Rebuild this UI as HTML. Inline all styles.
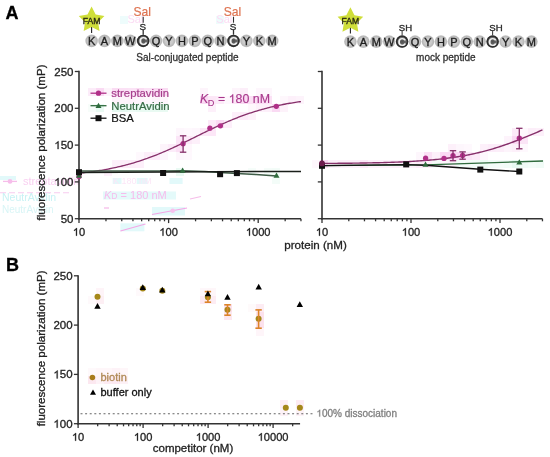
<!DOCTYPE html>
<html><head><meta charset="utf-8"><style>
html,body{margin:0;padding:0;background:#fff;}
svg{display:block;font-family:"Liberation Sans", sans-serif;will-change:transform;filter:blur(0.3px);}
.one{fill-opacity:0;stroke-opacity:0;}
</style></head><body>
<svg width="550" height="457" viewBox="0 0 550 457">
<defs>
<radialGradient id="bead" cx="50%" cy="50%" r="50%">
<stop offset="0" stop-color="#c8c8c8"/><stop offset="0.55" stop-color="#cccccc"/><stop offset="0.85" stop-color="#b8b8b8"/><stop offset="1" stop-color="#aaaaaa" stop-opacity="0.7"/>
</radialGradient>
<radialGradient id="beadC" cx="50%" cy="50%" r="50%">
<stop offset="0" stop-color="#505050"/><stop offset="0.6" stop-color="#6a6a6a"/><stop offset="1" stop-color="#9a9a9a"/>
</radialGradient>
</defs>
<rect width="550" height="457" fill="#fff"/>
<rect x="88" y="88" width="8" height="8" fill="#fcecf9"/>
<rect x="96" y="88" width="8" height="8" fill="#fadaf3"/>
<rect x="104" y="88" width="8" height="8" fill="#fdf4fb"/>
<rect x="112" y="88" width="8" height="8" fill="#fadcf3"/>
<rect x="120" y="88" width="8" height="8" fill="#fbe1f5"/>
<rect x="128" y="88" width="8" height="8" fill="#fbe3f6"/>
<rect x="136" y="88" width="8" height="8" fill="#fadcf3"/>
<rect x="144" y="88" width="8" height="8" fill="#fbe4f6"/>
<rect x="152" y="88" width="8" height="8" fill="#fadaf3"/>
<rect x="160" y="88" width="8" height="8" fill="#fadcf3"/>
<rect x="200" y="88" width="8" height="8" fill="#fdf4fb"/>
<rect x="232" y="88" width="8" height="8" fill="#fdf4fb"/>
<rect x="240" y="88" width="8" height="8" fill="#fceef9"/>
<rect x="256" y="88" width="8" height="8" fill="#fdf6fc"/>
<rect x="264" y="88" width="8" height="8" fill="#fdf6fc"/>
<rect x="112" y="96" width="8" height="8" fill="#fdf3fb"/>
<rect x="120" y="96" width="8" height="8" fill="#fdf4fb"/>
<rect x="128" y="96" width="8" height="8" fill="#fdf2fa"/>
<rect x="136" y="96" width="8" height="8" fill="#fdf4fb"/>
<rect x="144" y="96" width="8" height="8" fill="#fef7fc"/>
<rect x="152" y="96" width="8" height="8" fill="#fdf3fb"/>
<rect x="160" y="96" width="8" height="8" fill="#fdf6fc"/>
<rect x="200" y="96" width="8" height="8" fill="#fadaf3"/>
<rect x="208" y="96" width="8" height="8" fill="#fce7f7"/>
<rect x="216" y="96" width="8" height="8" fill="#fcebf8"/>
<rect x="224" y="96" width="8" height="8" fill="#fef8fd"/>
<rect x="232" y="96" width="8" height="8" fill="#fce7f7"/>
<rect x="240" y="96" width="8" height="8" fill="#fadaf3"/>
<rect x="248" y="96" width="8" height="8" fill="#fbe0f5"/>
<rect x="256" y="96" width="8" height="8" fill="#faddf4"/>
<rect x="264" y="96" width="8" height="8" fill="#fbe1f5"/>
<rect x="280" y="96" width="8" height="8" fill="#fef7fc"/>
<rect x="288" y="96" width="8" height="8" fill="#fdf0fa"/>
<rect x="296" y="96" width="8" height="8" fill="#fdf3fb"/>
<rect x="88" y="104" width="8" height="8" fill="#f7fdfa"/>
<rect x="96" y="104" width="8" height="8" fill="#e9faf3"/>
<rect x="112" y="104" width="8" height="8" fill="#e6f9f1"/>
<rect x="120" y="104" width="8" height="8" fill="#e6f9f1"/>
<rect x="128" y="104" width="8" height="8" fill="#edfbf5"/>
<rect x="136" y="104" width="8" height="8" fill="#e9faf2"/>
<rect x="144" y="104" width="8" height="8" fill="#e9faf3"/>
<rect x="152" y="104" width="8" height="8" fill="#e9faf2"/>
<rect x="160" y="104" width="8" height="8" fill="#e9faf2"/>
<rect x="208" y="104" width="8" height="8" fill="#fdf0fa"/>
<rect x="248" y="104" width="8" height="8" fill="#fef7fc"/>
<rect x="256" y="104" width="8" height="8" fill="#fdf0fa"/>
<rect x="264" y="104" width="8" height="8" fill="#fdeffa"/>
<rect x="272" y="104" width="8" height="8" fill="#fadaf3"/>
<rect x="280" y="104" width="8" height="8" fill="#fdf2fa"/>
<rect x="232" y="112" width="8" height="8" fill="#fdeffa"/>
<rect x="240" y="112" width="8" height="8" fill="#fcecf9"/>
<rect x="248" y="112" width="8" height="8" fill="#fdf2fa"/>
<rect x="208" y="120" width="8" height="8" fill="#fce9f8"/>
<rect x="216" y="120" width="8" height="8" fill="#fadaf3"/>
<rect x="224" y="120" width="8" height="8" fill="#fdeffa"/>
<rect x="176" y="128" width="8" height="8" fill="#fdf6fc"/>
<rect x="184" y="128" width="8" height="8" fill="#fef8fd"/>
<rect x="192" y="128" width="8" height="8" fill="#fdf6fc"/>
<rect x="200" y="128" width="8" height="8" fill="#fce8f7"/>
<rect x="208" y="128" width="8" height="8" fill="#fce7f7"/>
<rect x="512" y="128" width="8" height="8" fill="#fcebf8"/>
<rect x="520" y="128" width="8" height="8" fill="#fef8fd"/>
<rect x="528" y="128" width="8" height="8" fill="#fceef9"/>
<rect x="536" y="128" width="8" height="8" fill="#fdf0fa"/>
<rect x="176" y="136" width="8" height="8" fill="#fbe5f7"/>
<rect x="184" y="136" width="8" height="8" fill="#fce9f8"/>
<rect x="192" y="136" width="8" height="8" fill="#fdf0fa"/>
<rect x="504" y="136" width="8" height="8" fill="#fdf3fb"/>
<rect x="512" y="136" width="8" height="8" fill="#fadaf3"/>
<rect x="520" y="136" width="8" height="8" fill="#fbe4f6"/>
<rect x="160" y="144" width="8" height="8" fill="#fdf4fb"/>
<rect x="168" y="144" width="8" height="8" fill="#fcecf9"/>
<rect x="176" y="144" width="8" height="8" fill="#fbe0f5"/>
<rect x="184" y="144" width="8" height="8" fill="#fef7fc"/>
<rect x="448" y="144" width="8" height="8" fill="#fdf0fa"/>
<rect x="456" y="144" width="8" height="8" fill="#fdf6fc"/>
<rect x="464" y="144" width="8" height="8" fill="#fef8fd"/>
<rect x="480" y="144" width="8" height="8" fill="#fdf0fa"/>
<rect x="488" y="144" width="8" height="8" fill="#fcecf9"/>
<rect x="496" y="144" width="8" height="8" fill="#fceef9"/>
<rect x="504" y="144" width="8" height="8" fill="#fdf4fb"/>
<rect x="512" y="144" width="8" height="8" fill="#fdf0fa"/>
<rect x="520" y="144" width="8" height="8" fill="#fef8fd"/>
<rect x="136" y="152" width="8" height="8" fill="#fef8fd"/>
<rect x="144" y="152" width="8" height="8" fill="#fceef9"/>
<rect x="152" y="152" width="8" height="8" fill="#fcecf9"/>
<rect x="160" y="152" width="8" height="8" fill="#fdf6fc"/>
<rect x="176" y="152" width="8" height="8" fill="#fdf6fc"/>
<rect x="184" y="152" width="8" height="8" fill="#fef8fd"/>
<rect x="416" y="152" width="8" height="8" fill="#fdf6fc"/>
<rect x="424" y="152" width="8" height="8" fill="#fbe0f5"/>
<rect x="432" y="152" width="8" height="8" fill="#fdf0fa"/>
<rect x="440" y="152" width="8" height="8" fill="#fadaf3"/>
<rect x="448" y="152" width="8" height="8" fill="#fadaf3"/>
<rect x="456" y="152" width="8" height="8" fill="#fadaf3"/>
<rect x="464" y="152" width="8" height="8" fill="#fbe5f7"/>
<rect x="472" y="152" width="8" height="8" fill="#fcecf9"/>
<rect x="480" y="152" width="8" height="8" fill="#fef8fd"/>
<rect x="112" y="160" width="8" height="8" fill="#fdf0fa"/>
<rect x="120" y="160" width="8" height="8" fill="#fceef9"/>
<rect x="128" y="160" width="8" height="8" fill="#fceef9"/>
<rect x="136" y="160" width="8" height="8" fill="#fdeffa"/>
<rect x="312" y="160" width="8" height="8" fill="#fef7fc"/>
<rect x="320" y="160" width="8" height="8" fill="#fadaf3"/>
<rect x="328" y="160" width="8" height="8" fill="#fdf0fa"/>
<rect x="336" y="160" width="8" height="8" fill="#fdf0fa"/>
<rect x="344" y="160" width="8" height="8" fill="#fdf0fa"/>
<rect x="352" y="160" width="8" height="8" fill="#fdeffa"/>
<rect x="360" y="160" width="8" height="8" fill="#fce7f7"/>
<rect x="368" y="160" width="8" height="8" fill="#fdf0fa"/>
<rect x="376" y="160" width="8" height="8" fill="#fdf0fa"/>
<rect x="384" y="160" width="8" height="8" fill="#fdf0fa"/>
<rect x="392" y="160" width="8" height="8" fill="#fceef9"/>
<rect x="400" y="160" width="8" height="8" fill="#fdf4fb"/>
<rect x="408" y="160" width="8" height="8" fill="#fdf2fa"/>
<rect x="416" y="160" width="8" height="8" fill="#fcecf9"/>
<rect x="424" y="160" width="8" height="8" fill="#fdf0fa"/>
<rect x="432" y="160" width="8" height="8" fill="#f5fcf9"/>
<rect x="440" y="160" width="8" height="8" fill="#fdf6fc"/>
<rect x="448" y="160" width="8" height="8" fill="#fdf3fb"/>
<rect x="456" y="160" width="8" height="8" fill="#f2fcf8"/>
<rect x="464" y="160" width="8" height="8" fill="#f5fcf9"/>
<rect x="472" y="160" width="8" height="8" fill="#f2fcf8"/>
<rect x="480" y="160" width="8" height="8" fill="#eefbf5"/>
<rect x="488" y="160" width="8" height="8" fill="#f4fcf9"/>
<rect x="496" y="160" width="8" height="8" fill="#f5fcf9"/>
<rect x="504" y="160" width="8" height="8" fill="#f2fcf7"/>
<rect x="512" y="160" width="8" height="8" fill="#e8f9f2"/>
<rect x="520" y="160" width="8" height="8" fill="#f0fbf6"/>
<rect x="528" y="160" width="8" height="8" fill="#f3fcf8"/>
<rect x="536" y="160" width="8" height="8" fill="#f0fbf6"/>
<rect x="104" y="168" width="8" height="8" fill="#fdeffa"/>
<rect x="176" y="168" width="8" height="8" fill="#eafaf3"/>
<rect x="248" y="168" width="8" height="8" fill="#f6fdfa"/>
<rect x="264" y="168" width="8" height="8" fill="#f5fcf9"/>
<rect x="272" y="168" width="8" height="8" fill="#f3fcf8"/>
<rect x="72" y="176" width="8" height="8" fill="#fef7fc"/>
<rect x="272" y="176" width="8" height="8" fill="#f3fcf8"/>
<rect x="96" y="288" width="8" height="8" fill="#fef4f8"/>
<rect x="136" y="288" width="8" height="8" fill="#fef9fb"/>
<rect x="200" y="288" width="8" height="8" fill="#fef7fa"/>
<rect x="208" y="288" width="8" height="8" fill="#fef6f9"/>
<rect x="88" y="296" width="8" height="8" fill="#fef9fb"/>
<rect x="96" y="296" width="8" height="8" fill="#fdeff4"/>
<rect x="200" y="296" width="8" height="8" fill="#fdeaf2"/>
<rect x="208" y="296" width="8" height="8" fill="#fdecf3"/>
<rect x="224" y="304" width="8" height="8" fill="#fce1ec"/>
<rect x="248" y="304" width="8" height="8" fill="#fefafb"/>
<rect x="256" y="304" width="8" height="8" fill="#fdecf3"/>
<rect x="224" y="312" width="8" height="8" fill="#fce8f0"/>
<rect x="256" y="312" width="8" height="8" fill="#fce1ec"/>
<rect x="256" y="320" width="8" height="8" fill="#fce1ec"/>
<rect x="256" y="328" width="8" height="8" fill="#fef5f9"/>
<rect x="88" y="368" width="8" height="8" fill="#fef9fb"/>
<rect x="96" y="368" width="8" height="8" fill="#fef6f9"/>
<rect x="104" y="368" width="8" height="8" fill="#fef6f9"/>
<rect x="112" y="368" width="8" height="8" fill="#fdf2f7"/>
<rect x="120" y="368" width="8" height="8" fill="#fef6f9"/>
<rect x="88" y="376" width="8" height="8" fill="#fce8f0"/>
<rect x="96" y="376" width="8" height="8" fill="#fdf3f7"/>
<rect x="104" y="376" width="8" height="8" fill="#fdebf2"/>
<rect x="112" y="376" width="8" height="8" fill="#fdeaf2"/>
<rect x="120" y="376" width="8" height="8" fill="#fdf1f6"/>
<rect x="280" y="400" width="8" height="8" fill="#fdeef4"/>
<rect x="296" y="400" width="8" height="8" fill="#fdecf3"/>
<rect x="280" y="408" width="8" height="8" fill="#fdf2f7"/>
<rect x="296" y="408" width="8" height="8" fill="#fdf2f7"/>
<rect x="0" y="176" width="16" height="4" fill="#e2f9fa"/>
<line x1="3" y1="181.4" x2="17" y2="181.4" stroke="#f6bdea" stroke-width="1.3"/>
<circle cx="10" cy="181.4" r="2.4" fill="#f6bdea"/>
<text x="23" y="185.2" font-size="11" fill="#f9d0f1">streptavidin</text>
<line x1="0" y1="192.8" x2="72" y2="192.8" stroke="#f8ccef" stroke-width="1.1" stroke-dasharray="6,3"/>
<text x="2" y="200.6" font-size="10.5" fill="#c8f2f4">NeutrAvidin</text>
<text x="2" y="212.8" font-size="10" fill="#d8f5f6">NeutrAvidin</text>
<rect x="112.7" y="178" width="8.8" height="6" fill="#e2f9fa"/>
<rect x="136.7" y="178" width="10.9" height="6" fill="#e2f9fa"/>
<rect x="169.5" y="178" width="13.1" height="6" fill="#e2f9fa"/>
<text x="113" y="184" font-size="9" fill="#fce6f7">K       180   nM</text>
<rect x="103" y="191.5" width="73" height="8" fill="#e4fafa"/>
<text x="104" y="199.3" font-size="11" fill="#f6bcec"><tspan font-style="italic">K</tspan><tspan font-size="8.5">D</tspan> = 180 nM</text>
<line x1="190" y1="199" x2="201" y2="196.5" stroke="#f6bdea" stroke-width="1.1"/>
<line x1="104" y1="208" x2="109" y2="208" stroke="#f6bdea" stroke-width="1.3"/>
<rect x="152" y="207" width="33" height="8.5" fill="#e2f9fa"/>
<line x1="152" y1="214.5" x2="187" y2="208" stroke="#f4a6e6" stroke-width="1.2"/>
<circle cx="172.7" cy="210.8" r="2.3" fill="#f7c2ee"/>
<rect x="120.4" y="223.3" width="24" height="8" fill="#e2f9fa"/>
<line x1="120.4" y1="231" x2="145.5" y2="224" stroke="#f4a6e6" stroke-width="1.2"/>
<rect x="120" y="16" width="8" height="8" fill="#eefcfc"/>
<text x="127.5" y="23.4" font-size="11" fill="#fbdcf4">Sal</text>
<rect x="216" y="16" width="8" height="8" fill="#eefcfc"/>
<text x="216.3" y="23.4" font-size="11" fill="#fbdcf4">Sal</text>
<text x="5.5" y="18.8" font-size="18" fill="#000" text-anchor="start" font-weight="bold" stroke="#000" stroke-width="0.3">A</text>
<text x="6.1" y="271.2" font-size="18" fill="#000" text-anchor="start" font-weight="bold" stroke="#000" stroke-width="0.3">B</text>
<line x1="91.6" y1="25.9" x2="91.6" y2="32.9" stroke="#222" stroke-width="1.1"/>
<polygon points="91.60,6.60 95.66,14.52 104.44,15.93 98.16,22.23 99.54,31.02 91.60,27.00 83.66,31.02 85.04,22.23 78.76,15.93 87.54,14.52" fill="#cfde3a"/>
<text x="91.6" y="23.599999999999998" font-size="8.6" fill="#2a2a14" text-anchor="middle" font-weight="normal" stroke="#2a2a14" stroke-width="0.35">FAM</text>
<circle cx="91.60" cy="40.9" r="6.3" fill="url(#bead)"/>
<text x="91.60" y="44.8" font-size="11" fill="#1e1e1e" text-anchor="middle" font-weight="normal" stroke="#1e1e1e" stroke-width="0.35">K</text>
<circle cx="104.50" cy="40.9" r="6.3" fill="url(#bead)"/>
<text x="104.50" y="44.8" font-size="11" fill="#1e1e1e" text-anchor="middle" font-weight="normal" stroke="#1e1e1e" stroke-width="0.35">A</text>
<circle cx="117.40" cy="40.9" r="6.3" fill="url(#bead)"/>
<text x="117.40" y="44.8" font-size="11" fill="#1e1e1e" text-anchor="middle" font-weight="normal" stroke="#1e1e1e" stroke-width="0.35">M</text>
<circle cx="130.30" cy="40.9" r="6.3" fill="url(#bead)"/>
<text x="130.30" y="44.8" font-size="11" fill="#1e1e1e" text-anchor="middle" font-weight="normal" stroke="#1e1e1e" stroke-width="0.35">W</text>
<circle cx="143.20" cy="40.9" r="6.1" fill="url(#beadC)"/>
<circle cx="143.20" cy="40.9" r="5.4" fill="none" stroke="#2e2e2e" stroke-width="1.7"/>
<text x="143.20" y="45.1" font-size="11.8" fill="#f0f0f0" text-anchor="middle" font-weight="bold" >C</text>
<circle cx="156.10" cy="40.9" r="6.3" fill="url(#bead)"/>
<text x="156.10" y="44.8" font-size="11" fill="#1e1e1e" text-anchor="middle" font-weight="normal" stroke="#1e1e1e" stroke-width="0.35">Q</text>
<circle cx="169.00" cy="40.9" r="6.3" fill="url(#bead)"/>
<text x="169.00" y="44.8" font-size="11" fill="#1e1e1e" text-anchor="middle" font-weight="normal" stroke="#1e1e1e" stroke-width="0.35">Y</text>
<circle cx="181.90" cy="40.9" r="6.3" fill="url(#bead)"/>
<text x="181.90" y="44.8" font-size="11" fill="#1e1e1e" text-anchor="middle" font-weight="normal" stroke="#1e1e1e" stroke-width="0.35">H</text>
<circle cx="194.80" cy="40.9" r="6.3" fill="url(#bead)"/>
<text x="194.80" y="44.8" font-size="11" fill="#1e1e1e" text-anchor="middle" font-weight="normal" stroke="#1e1e1e" stroke-width="0.35">P</text>
<circle cx="207.70" cy="40.9" r="6.3" fill="url(#bead)"/>
<text x="207.70" y="44.8" font-size="11" fill="#1e1e1e" text-anchor="middle" font-weight="normal" stroke="#1e1e1e" stroke-width="0.35">Q</text>
<circle cx="220.60" cy="40.9" r="6.3" fill="url(#bead)"/>
<text x="220.60" y="44.8" font-size="11" fill="#1e1e1e" text-anchor="middle" font-weight="normal" stroke="#1e1e1e" stroke-width="0.35">N</text>
<circle cx="233.50" cy="40.9" r="6.1" fill="url(#beadC)"/>
<circle cx="233.50" cy="40.9" r="5.4" fill="none" stroke="#2e2e2e" stroke-width="1.7"/>
<text x="233.50" y="45.1" font-size="11.8" fill="#f0f0f0" text-anchor="middle" font-weight="bold" >C</text>
<circle cx="246.40" cy="40.9" r="6.3" fill="url(#bead)"/>
<text x="246.40" y="44.8" font-size="11" fill="#1e1e1e" text-anchor="middle" font-weight="normal" stroke="#1e1e1e" stroke-width="0.35">Y</text>
<circle cx="259.30" cy="40.9" r="6.3" fill="url(#bead)"/>
<text x="259.30" y="44.8" font-size="11" fill="#1e1e1e" text-anchor="middle" font-weight="normal" stroke="#1e1e1e" stroke-width="0.35">K</text>
<circle cx="272.20" cy="40.9" r="6.3" fill="url(#bead)"/>
<text x="272.20" y="44.8" font-size="11" fill="#1e1e1e" text-anchor="middle" font-weight="normal" stroke="#1e1e1e" stroke-width="0.35">M</text>
<line x1="143.20" y1="34.699999999999996" x2="143.20" y2="29.7" stroke="#333" stroke-width="1.3"/>
<text x="142.70" y="29.599999999999998" font-size="9.9" fill="#2a2a2a" text-anchor="middle" font-weight="normal" stroke="#2a2a2a" stroke-width="0.3">S</text>
<line x1="143.20" y1="22.7" x2="143.20" y2="16.7" stroke="#333" stroke-width="1.1"/>
<text x="142.20" y="15.599999999999998" font-size="12.1" fill="#de7452" text-anchor="middle" font-weight="normal" stroke="#de7452" stroke-width="0.2">Sal</text>
<line x1="233.50" y1="34.699999999999996" x2="233.50" y2="29.7" stroke="#333" stroke-width="1.3"/>
<text x="233.00" y="29.599999999999998" font-size="9.9" fill="#2a2a2a" text-anchor="middle" font-weight="normal" stroke="#2a2a2a" stroke-width="0.3">S</text>
<line x1="233.50" y1="22.7" x2="233.50" y2="16.7" stroke="#333" stroke-width="1.1"/>
<text x="232.50" y="15.599999999999998" font-size="12.1" fill="#de7452" text-anchor="middle" font-weight="normal" stroke="#de7452" stroke-width="0.2">Sal</text>
<line x1="350.4" y1="26.6" x2="350.4" y2="33.6" stroke="#222" stroke-width="1.1"/>
<polygon points="350.40,7.30 354.46,15.22 363.24,16.63 356.96,22.93 358.34,31.72 350.40,27.70 342.46,31.72 343.84,22.93 337.56,16.63 346.34,15.22" fill="#cfde3a"/>
<text x="350.4" y="24.3" font-size="8.6" fill="#2a2a14" text-anchor="middle" font-weight="normal" stroke="#2a2a14" stroke-width="0.35">FAM</text>
<circle cx="350.40" cy="41.6" r="6.3" fill="url(#bead)"/>
<text x="350.40" y="45.5" font-size="11" fill="#1e1e1e" text-anchor="middle" font-weight="normal" stroke="#1e1e1e" stroke-width="0.35">K</text>
<circle cx="363.33" cy="41.6" r="6.3" fill="url(#bead)"/>
<text x="363.33" y="45.5" font-size="11" fill="#1e1e1e" text-anchor="middle" font-weight="normal" stroke="#1e1e1e" stroke-width="0.35">A</text>
<circle cx="376.26" cy="41.6" r="6.3" fill="url(#bead)"/>
<text x="376.26" y="45.5" font-size="11" fill="#1e1e1e" text-anchor="middle" font-weight="normal" stroke="#1e1e1e" stroke-width="0.35">M</text>
<circle cx="389.19" cy="41.6" r="6.3" fill="url(#bead)"/>
<text x="389.19" y="45.5" font-size="11" fill="#1e1e1e" text-anchor="middle" font-weight="normal" stroke="#1e1e1e" stroke-width="0.35">W</text>
<circle cx="402.12" cy="41.6" r="6.1" fill="url(#beadC)"/>
<circle cx="402.12" cy="41.6" r="5.4" fill="none" stroke="#2e2e2e" stroke-width="1.7"/>
<text x="402.12" y="45.800000000000004" font-size="11.8" fill="#f0f0f0" text-anchor="middle" font-weight="bold" >C</text>
<circle cx="415.05" cy="41.6" r="6.3" fill="url(#bead)"/>
<text x="415.05" y="45.5" font-size="11" fill="#1e1e1e" text-anchor="middle" font-weight="normal" stroke="#1e1e1e" stroke-width="0.35">Q</text>
<circle cx="427.98" cy="41.6" r="6.3" fill="url(#bead)"/>
<text x="427.98" y="45.5" font-size="11" fill="#1e1e1e" text-anchor="middle" font-weight="normal" stroke="#1e1e1e" stroke-width="0.35">Y</text>
<circle cx="440.91" cy="41.6" r="6.3" fill="url(#bead)"/>
<text x="440.91" y="45.5" font-size="11" fill="#1e1e1e" text-anchor="middle" font-weight="normal" stroke="#1e1e1e" stroke-width="0.35">H</text>
<circle cx="453.84" cy="41.6" r="6.3" fill="url(#bead)"/>
<text x="453.84" y="45.5" font-size="11" fill="#1e1e1e" text-anchor="middle" font-weight="normal" stroke="#1e1e1e" stroke-width="0.35">P</text>
<circle cx="466.77" cy="41.6" r="6.3" fill="url(#bead)"/>
<text x="466.77" y="45.5" font-size="11" fill="#1e1e1e" text-anchor="middle" font-weight="normal" stroke="#1e1e1e" stroke-width="0.35">Q</text>
<circle cx="479.70" cy="41.6" r="6.3" fill="url(#bead)"/>
<text x="479.70" y="45.5" font-size="11" fill="#1e1e1e" text-anchor="middle" font-weight="normal" stroke="#1e1e1e" stroke-width="0.35">N</text>
<circle cx="492.63" cy="41.6" r="6.1" fill="url(#beadC)"/>
<circle cx="492.63" cy="41.6" r="5.4" fill="none" stroke="#2e2e2e" stroke-width="1.7"/>
<text x="492.63" y="45.800000000000004" font-size="11.8" fill="#f0f0f0" text-anchor="middle" font-weight="bold" >C</text>
<circle cx="505.56" cy="41.6" r="6.3" fill="url(#bead)"/>
<text x="505.56" y="45.5" font-size="11" fill="#1e1e1e" text-anchor="middle" font-weight="normal" stroke="#1e1e1e" stroke-width="0.35">Y</text>
<circle cx="518.49" cy="41.6" r="6.3" fill="url(#bead)"/>
<text x="518.49" y="45.5" font-size="11" fill="#1e1e1e" text-anchor="middle" font-weight="normal" stroke="#1e1e1e" stroke-width="0.35">K</text>
<circle cx="531.42" cy="41.6" r="6.3" fill="url(#bead)"/>
<text x="531.42" y="45.5" font-size="11" fill="#1e1e1e" text-anchor="middle" font-weight="normal" stroke="#1e1e1e" stroke-width="0.35">M</text>
<line x1="402.12" y1="35.1" x2="402.12" y2="31.1" stroke="#333" stroke-width="1"/>
<text x="398.82" y="30.6" font-size="9.6" fill="#2a2a2a" text-anchor="start" font-weight="normal" stroke="#2a2a2a" stroke-width="0.35">SH</text>
<line x1="492.63" y1="35.1" x2="492.63" y2="31.1" stroke="#333" stroke-width="1"/>
<text x="489.33" y="30.6" font-size="9.6" fill="#2a2a2a" text-anchor="start" font-weight="normal" stroke="#2a2a2a" stroke-width="0.35">SH</text>
<text x="187.5" y="61" font-size="10" fill="#333" text-anchor="middle" font-weight="normal" stroke="#333" stroke-width="0.3">Sal-conjugated peptide</text>
<text x="445.8" y="60.6" font-size="10" fill="#333" text-anchor="middle" font-weight="normal" stroke="#333" stroke-width="0.3">mock peptide</text>
<line x1="79.0" y1="70.85" x2="79.0" y2="219.50" stroke="#333" stroke-width="1.6"/>
<line x1="74.8" y1="218.70" x2="79.0" y2="218.70" stroke="#333" stroke-width="1.3"/>
<text x="73.5" y="222.70" font-size="11.5" fill="#222" text-anchor="end" font-weight="normal" stroke="#222" stroke-width="0.3">50</text>
<line x1="74.8" y1="181.90" x2="79.0" y2="181.90" stroke="#333" stroke-width="1.3"/>
<text x="73.5" y="185.90" font-size="11.5" fill="#222" text-anchor="end" font-weight="normal" stroke="#222" stroke-width="0.3"><tspan class="one">1</tspan>00</text>
<line x1="74.8" y1="145.10" x2="79.0" y2="145.10" stroke="#333" stroke-width="1.3"/>
<text x="73.5" y="149.10" font-size="11.5" fill="#222" text-anchor="end" font-weight="normal" stroke="#222" stroke-width="0.3"><tspan class="one">1</tspan>50</text>
<line x1="74.8" y1="108.30" x2="79.0" y2="108.30" stroke="#333" stroke-width="1.3"/>
<text x="73.5" y="112.30" font-size="11.5" fill="#222" text-anchor="end" font-weight="normal" stroke="#222" stroke-width="0.3">200</text>
<line x1="74.8" y1="71.50" x2="79.0" y2="71.50" stroke="#333" stroke-width="1.3"/>
<text x="73.5" y="75.50" font-size="11.5" fill="#222" text-anchor="end" font-weight="normal" stroke="#222" stroke-width="0.3">250</text>
<line x1="78.2" y1="218.7" x2="300.95" y2="218.7" stroke="#333" stroke-width="1.6"/>
<line x1="79.00" y1="218.7" x2="79.00" y2="223.1" stroke="#333" stroke-width="1.3"/>
<line x1="105.97" y1="218.7" x2="105.97" y2="221.29999999999998" stroke="#333" stroke-width="1.3"/>
<line x1="121.75" y1="218.7" x2="121.75" y2="221.29999999999998" stroke="#333" stroke-width="1.3"/>
<line x1="132.94" y1="218.7" x2="132.94" y2="221.29999999999998" stroke="#333" stroke-width="1.3"/>
<line x1="141.63" y1="218.7" x2="141.63" y2="221.29999999999998" stroke="#333" stroke-width="1.3"/>
<line x1="148.72" y1="218.7" x2="148.72" y2="221.29999999999998" stroke="#333" stroke-width="1.3"/>
<line x1="154.72" y1="218.7" x2="154.72" y2="221.29999999999998" stroke="#333" stroke-width="1.3"/>
<line x1="159.92" y1="218.7" x2="159.92" y2="221.29999999999998" stroke="#333" stroke-width="1.3"/>
<line x1="164.50" y1="218.7" x2="164.50" y2="221.29999999999998" stroke="#333" stroke-width="1.3"/>
<line x1="168.60" y1="218.7" x2="168.60" y2="223.1" stroke="#333" stroke-width="1.3"/>
<line x1="195.57" y1="218.7" x2="195.57" y2="221.29999999999998" stroke="#333" stroke-width="1.3"/>
<line x1="211.35" y1="218.7" x2="211.35" y2="221.29999999999998" stroke="#333" stroke-width="1.3"/>
<line x1="222.54" y1="218.7" x2="222.54" y2="221.29999999999998" stroke="#333" stroke-width="1.3"/>
<line x1="231.23" y1="218.7" x2="231.23" y2="221.29999999999998" stroke="#333" stroke-width="1.3"/>
<line x1="238.32" y1="218.7" x2="238.32" y2="221.29999999999998" stroke="#333" stroke-width="1.3"/>
<line x1="244.32" y1="218.7" x2="244.32" y2="221.29999999999998" stroke="#333" stroke-width="1.3"/>
<line x1="249.52" y1="218.7" x2="249.52" y2="221.29999999999998" stroke="#333" stroke-width="1.3"/>
<line x1="254.10" y1="218.7" x2="254.10" y2="221.29999999999998" stroke="#333" stroke-width="1.3"/>
<line x1="258.20" y1="218.7" x2="258.20" y2="223.1" stroke="#333" stroke-width="1.3"/>
<line x1="285.17" y1="218.7" x2="285.17" y2="221.29999999999998" stroke="#333" stroke-width="1.3"/>
<line x1="300.95" y1="218.7" x2="300.95" y2="221.29999999999998" stroke="#333" stroke-width="1.3"/>
<text x="79.00" y="235.7" font-size="11.1" fill="#222" text-anchor="middle" font-weight="normal" stroke="#222" stroke-width="0.3"><tspan class="one">1</tspan>0</text>
<text x="168.60" y="235.7" font-size="11.1" fill="#222" text-anchor="middle" font-weight="normal" stroke="#222" stroke-width="0.3"><tspan class="one">1</tspan>00</text>
<text x="258.20" y="235.7" font-size="11.1" fill="#222" text-anchor="middle" font-weight="normal" stroke="#222" stroke-width="0.3"><tspan class="one">1</tspan>000</text>
<text transform="translate(44.8,142.5) rotate(-90)" font-size="11.55" fill="#222" stroke="#222" stroke-width="0.3" text-anchor="middle">fluorescence polarization (mP)</text>
<polyline points="79.00,173.27 80.39,173.12 81.77,172.96 83.16,172.80 84.55,172.64 85.94,172.47 87.32,172.30 88.71,172.12 90.10,171.94 91.48,171.75 92.87,171.55 94.26,171.35 95.65,171.15 97.03,170.94 98.42,170.72 99.81,170.50 101.20,170.27 102.58,170.03 103.97,169.79 105.36,169.54 106.74,169.28 108.13,169.02 109.52,168.75 110.91,168.48 112.29,168.19 113.68,167.90 115.07,167.60 116.45,167.30 117.84,166.99 119.23,166.66 120.62,166.34 122.00,166.00 123.39,165.65 124.78,165.30 126.16,164.94 127.55,164.57 128.94,164.19 130.33,163.80 131.71,163.41 133.10,163.01 134.49,162.59 135.87,162.17 137.26,161.74 138.65,161.30 140.04,160.86 141.42,160.40 142.81,159.93 144.20,159.46 145.59,158.98 146.97,158.49 148.36,157.98 149.75,157.48 151.13,156.96 152.52,156.43 153.91,155.90 155.30,155.35 156.68,154.80 158.07,154.24 159.46,153.68 160.84,153.10 162.23,152.52 163.62,151.93 165.01,151.33 166.39,150.73 167.78,150.11 169.17,149.50 170.55,148.87 171.94,148.24 173.33,147.60 174.72,146.96 176.10,146.31 177.49,145.66 178.88,145.00 180.26,144.34 181.65,143.68 183.04,143.01 184.43,142.33 185.81,141.66 187.20,140.98 188.59,140.30 189.98,139.61 191.36,138.93 192.75,138.24 194.14,137.55 195.52,136.87 196.91,136.18 198.30,135.49 199.69,134.81 201.07,134.12 202.46,133.44 203.85,132.75 205.23,132.07 206.62,131.40 208.01,130.72 209.40,130.05 210.78,129.38 212.17,128.72 213.56,128.06 214.94,127.40 216.33,126.75 217.72,126.11 219.11,125.47 220.49,124.83 221.88,124.21 223.27,123.58 224.65,122.97 226.04,122.36 227.43,121.76 228.82,121.17 230.20,120.58 231.59,120.00 232.98,119.43 234.37,118.87 235.75,118.31 237.14,117.77 238.53,117.23 239.91,116.70 241.30,116.18 242.69,115.66 244.08,115.16 245.46,114.66 246.85,114.17 248.24,113.70 249.62,113.23 251.01,112.77 252.40,112.31 253.79,111.87 255.17,111.44 256.56,111.01 257.95,110.60 259.33,110.19 260.72,109.79 262.11,109.40 263.50,109.01 264.88,108.64 266.27,108.28 267.66,107.92 269.04,107.57 270.43,107.23 271.82,106.90 273.21,106.57 274.59,106.25 275.98,105.94 277.37,105.64 278.76,105.35 280.14,105.06 281.53,104.78 282.92,104.51 284.30,104.24 285.69,103.99 287.08,103.73 288.47,103.49 289.85,103.25 291.24,103.02 292.63,102.79 294.01,102.57 295.40,102.36 296.79,102.15 298.18,101.95 299.56,101.75 300.95,101.56" fill="none" stroke="#86306a" stroke-width="1.3" stroke-linejoin="round"/>
<polyline points="79.00,171.00 163.00,170.90 182.60,170.70 205.00,171.60 220.00,172.40 236.90,173.40 256.00,174.60 276.50,175.90" fill="none" stroke="#3f5c47" stroke-width="1.5" stroke-linejoin="round"/>
<polyline points="79.00,172.40 301.00,171.40" fill="none" stroke="#1a1f1a" stroke-width="1.5" stroke-linejoin="round"/>
<circle cx="79.00" cy="176.50" r="2.65" fill="#b03088"/>
<circle cx="183.10" cy="143.70" r="2.65" fill="#b03088"/>
<circle cx="209.90" cy="128.20" r="2.65" fill="#b03088"/>
<circle cx="220.40" cy="125.80" r="2.65" fill="#b03088"/>
<circle cx="276.30" cy="106.30" r="2.65" fill="#b03088"/>
<line x1="183.10" y1="135.80" x2="183.10" y2="152.20" stroke="#86306a" stroke-width="1.3"/><line x1="179.90" y1="135.80" x2="186.30" y2="135.80" stroke="#86306a" stroke-width="1.3"/><line x1="179.90" y1="152.20" x2="186.30" y2="152.20" stroke="#86306a" stroke-width="1.3"/>
<polygon points="79.00,172.50 82.00,177.75 76.00,177.75" fill="#2f6b3d"/>
<polygon points="182.60,167.60 185.60,172.85 179.60,172.85" fill="#2f6b3d"/>
<polygon points="276.50,172.60 279.50,177.85 273.50,177.85" fill="#2f6b3d"/>
<rect x="76.00" y="169.20" width="6.0" height="6.0" fill="#111"/>
<rect x="160.10" y="170.00" width="6.0" height="6.0" fill="#111"/>
<rect x="217.10" y="171.20" width="6.0" height="6.0" fill="#111"/>
<rect x="233.90" y="170.10" width="6.0" height="6.0" fill="#111"/>
<line x1="90.5" y1="93.2" x2="106.5" y2="93.2" stroke="#b03088" stroke-width="1.3"/>
<circle cx="98.50" cy="93.20" r="2.65" fill="#b03088"/>
<text x="111.3" y="97.10000000000001" font-size="11.3" fill="#a63e8c" text-anchor="start" font-weight="normal" stroke="#a63e8c" stroke-width="0.2">streptavidin</text>
<line x1="90.5" y1="105.7" x2="106.5" y2="105.7" stroke="#2f6b3d" stroke-width="1.3"/>
<polygon points="98.50,102.70 101.50,107.95 95.50,107.95" fill="#2f6b3d"/>
<text x="111.3" y="109.60000000000001" font-size="11.3" fill="#376a45" text-anchor="start" font-weight="normal" stroke="#376a45" stroke-width="0.2">NeutrAvidin</text>
<line x1="90.5" y1="118.2" x2="106.5" y2="118.2" stroke="#111" stroke-width="1.3"/>
<rect x="95.50" y="115.20" width="6.0" height="6.0" fill="#111"/>
<text x="111.3" y="122.10000000000001" font-size="11.3" fill="#111" text-anchor="start" font-weight="normal" stroke="#111" stroke-width="0.2">BSA</text>
<text x="200" y="102.9" font-size="12.4" fill="#a8388c" stroke="#a8388c" stroke-width="0.12"><tspan font-style="italic">K</tspan><tspan font-size="9.2" dy="2.6" dx="-0.4">D</tspan><tspan dy="-2.6"> = <tspan class="one">1</tspan>80 nM</tspan></text>
<line x1="322" y1="70.85" x2="322" y2="219.50" stroke="#333" stroke-width="1.6"/>
<line x1="317.8" y1="218.70" x2="322" y2="218.70" stroke="#333" stroke-width="1.3"/>
<line x1="317.8" y1="181.90" x2="322" y2="181.90" stroke="#333" stroke-width="1.3"/>
<line x1="317.8" y1="145.10" x2="322" y2="145.10" stroke="#333" stroke-width="1.3"/>
<line x1="317.8" y1="108.30" x2="322" y2="108.30" stroke="#333" stroke-width="1.3"/>
<line x1="317.8" y1="71.50" x2="322" y2="71.50" stroke="#333" stroke-width="1.3"/>
<line x1="321.2" y1="218.7" x2="542.46" y2="218.7" stroke="#333" stroke-width="1.6"/>
<line x1="322.00" y1="218.7" x2="322.00" y2="223.1" stroke="#333" stroke-width="1.3"/>
<line x1="348.79" y1="218.7" x2="348.79" y2="221.29999999999998" stroke="#333" stroke-width="1.3"/>
<line x1="364.46" y1="218.7" x2="364.46" y2="221.29999999999998" stroke="#333" stroke-width="1.3"/>
<line x1="375.58" y1="218.7" x2="375.58" y2="221.29999999999998" stroke="#333" stroke-width="1.3"/>
<line x1="384.21" y1="218.7" x2="384.21" y2="221.29999999999998" stroke="#333" stroke-width="1.3"/>
<line x1="391.26" y1="218.7" x2="391.26" y2="221.29999999999998" stroke="#333" stroke-width="1.3"/>
<line x1="397.21" y1="218.7" x2="397.21" y2="221.29999999999998" stroke="#333" stroke-width="1.3"/>
<line x1="402.38" y1="218.7" x2="402.38" y2="221.29999999999998" stroke="#333" stroke-width="1.3"/>
<line x1="406.93" y1="218.7" x2="406.93" y2="221.29999999999998" stroke="#333" stroke-width="1.3"/>
<line x1="411.00" y1="218.7" x2="411.00" y2="223.1" stroke="#333" stroke-width="1.3"/>
<line x1="437.79" y1="218.7" x2="437.79" y2="221.29999999999998" stroke="#333" stroke-width="1.3"/>
<line x1="453.46" y1="218.7" x2="453.46" y2="221.29999999999998" stroke="#333" stroke-width="1.3"/>
<line x1="464.58" y1="218.7" x2="464.58" y2="221.29999999999998" stroke="#333" stroke-width="1.3"/>
<line x1="473.21" y1="218.7" x2="473.21" y2="221.29999999999998" stroke="#333" stroke-width="1.3"/>
<line x1="480.26" y1="218.7" x2="480.26" y2="221.29999999999998" stroke="#333" stroke-width="1.3"/>
<line x1="486.21" y1="218.7" x2="486.21" y2="221.29999999999998" stroke="#333" stroke-width="1.3"/>
<line x1="491.38" y1="218.7" x2="491.38" y2="221.29999999999998" stroke="#333" stroke-width="1.3"/>
<line x1="495.93" y1="218.7" x2="495.93" y2="221.29999999999998" stroke="#333" stroke-width="1.3"/>
<line x1="500.00" y1="218.7" x2="500.00" y2="223.1" stroke="#333" stroke-width="1.3"/>
<line x1="526.79" y1="218.7" x2="526.79" y2="221.29999999999998" stroke="#333" stroke-width="1.3"/>
<line x1="542.46" y1="218.7" x2="542.46" y2="221.29999999999998" stroke="#333" stroke-width="1.3"/>
<text x="322.00" y="235.7" font-size="11.1" fill="#222" text-anchor="middle" font-weight="normal" stroke="#222" stroke-width="0.3"><tspan class="one">1</tspan>0</text>
<text x="411.00" y="235.7" font-size="11.1" fill="#222" text-anchor="middle" font-weight="normal" stroke="#222" stroke-width="0.3"><tspan class="one">1</tspan>00</text>
<text x="500.00" y="235.7" font-size="11.1" fill="#222" text-anchor="middle" font-weight="normal" stroke="#222" stroke-width="0.3"><tspan class="one">1</tspan>000</text>
<text x="315.5" y="248.7" font-size="11.6" fill="#222" text-anchor="middle" font-weight="normal" stroke="#222" stroke-width="0.3">protein (nM)</text>
<polyline points="322.00,165.60 425.50,164.90 543.00,161.00" fill="none" stroke="#2f6b3d" stroke-width="1.3" stroke-linejoin="round"/>
<polyline points="322.00,165.60 406.00,164.60 425.50,165.20 480.00,169.30 519.30,171.50" fill="none" stroke="#111" stroke-width="1.4" stroke-linejoin="round"/>
<polyline points="322.00,163.44 323.84,163.43 325.67,163.42 327.51,163.40 329.35,163.39 331.19,163.38 333.02,163.36 334.86,163.35 336.70,163.33 338.53,163.32 340.37,163.30 342.21,163.28 344.05,163.26 345.88,163.24 347.72,163.22 349.56,163.20 351.40,163.18 353.23,163.16 355.07,163.13 356.91,163.10 358.74,163.08 360.58,163.05 362.42,163.02 364.26,162.99 366.09,162.95 367.93,162.92 369.77,162.88 371.60,162.85 373.44,162.81 375.28,162.77 377.12,162.72 378.95,162.68 380.79,162.63 382.63,162.58 384.46,162.53 386.30,162.47 388.14,162.42 389.98,162.36 391.81,162.29 393.65,162.23 395.49,162.16 397.33,162.09 399.16,162.01 401.00,161.93 402.84,161.85 404.67,161.77 406.51,161.68 408.35,161.58 410.19,161.48 412.02,161.38 413.86,161.27 415.70,161.16 417.53,161.04 419.37,160.92 421.21,160.79 423.05,160.66 424.88,160.52 426.72,160.38 428.56,160.22 430.39,160.07 432.23,159.90 434.07,159.73 435.91,159.55 437.74,159.36 439.58,159.16 441.42,158.96 443.26,158.75 445.09,158.53 446.93,158.30 448.77,158.06 450.60,157.81 452.44,157.55 454.28,157.28 456.12,157.00 457.95,156.71 459.79,156.41 461.63,156.10 463.46,155.78 465.30,155.44 467.14,155.09 468.98,154.73 470.81,154.36 472.65,153.97 474.49,153.57 476.32,153.16 478.16,152.73 480.00,152.29 481.84,151.84 483.67,151.37 485.51,150.88 487.35,150.39 489.19,149.88 491.02,149.35 492.86,148.81 494.70,148.26 496.53,147.69 498.37,147.11 500.21,146.51 502.05,145.90 503.88,145.28 505.72,144.64 507.56,143.99 509.39,143.33 511.23,142.66 513.07,141.97 514.91,141.28 516.74,140.57 518.58,139.85 520.42,139.12 522.25,138.39 524.09,137.65 525.93,136.89 527.77,136.14 529.60,135.37 531.44,134.60 533.28,133.83 535.11,133.05 536.95,132.27 538.79,131.49 540.63,130.71 542.46,129.93" fill="none" stroke="#86306a" stroke-width="1.4" stroke-linejoin="round"/>
<rect x="319.00" y="162.80" width="6.0" height="6.0" fill="#111"/>
<rect x="403.20" y="161.40" width="6.0" height="6.0" fill="#111"/>
<rect x="477.30" y="166.60" width="6.0" height="6.0" fill="#111"/>
<rect x="516.30" y="168.50" width="6.0" height="6.0" fill="#111"/>
<polygon points="425.50,161.60 428.50,166.85 422.50,166.85" fill="#2f6b3d"/>
<polygon points="519.30,159.30 522.30,164.55 516.30,164.55" fill="#2f6b3d"/>
<circle cx="322.00" cy="163.40" r="2.9" fill="#6e1c4e"/>
<circle cx="425.60" cy="158.20" r="2.65" fill="#b03088"/>
<circle cx="444.00" cy="158.40" r="2.65" fill="#b03088"/>
<circle cx="453.00" cy="155.70" r="2.65" fill="#b03088"/>
<circle cx="462.60" cy="155.50" r="2.65" fill="#b03088"/>
<circle cx="519.30" cy="138.20" r="2.65" fill="#b03088"/>
<line x1="453.00" y1="150.70" x2="453.00" y2="160.70" stroke="#86306a" stroke-width="1.3"/><line x1="449.80" y1="150.70" x2="456.20" y2="150.70" stroke="#86306a" stroke-width="1.3"/><line x1="449.80" y1="160.70" x2="456.20" y2="160.70" stroke="#86306a" stroke-width="1.3"/>
<line x1="462.60" y1="151.90" x2="462.60" y2="159.20" stroke="#86306a" stroke-width="1.3"/><line x1="459.40" y1="151.90" x2="465.80" y2="151.90" stroke="#86306a" stroke-width="1.3"/><line x1="459.40" y1="159.20" x2="465.80" y2="159.20" stroke="#86306a" stroke-width="1.3"/>
<line x1="519.30" y1="128.30" x2="519.30" y2="148.80" stroke="#86306a" stroke-width="1.3"/><line x1="516.10" y1="128.30" x2="522.50" y2="128.30" stroke="#86306a" stroke-width="1.3"/><line x1="516.10" y1="148.80" x2="522.50" y2="148.80" stroke="#86306a" stroke-width="1.3"/>
<line x1="78.1" y1="275.15" x2="78.1" y2="424.50" stroke="#333" stroke-width="1.6"/>
<line x1="73.89999999999999" y1="423.70" x2="78.1" y2="423.70" stroke="#333" stroke-width="1.3"/>
<text x="72.6" y="427.70" font-size="11.5" fill="#222" text-anchor="end" font-weight="normal" stroke="#222" stroke-width="0.3"><tspan class="one">1</tspan>00</text>
<line x1="73.89999999999999" y1="374.40" x2="78.1" y2="374.40" stroke="#333" stroke-width="1.3"/>
<text x="72.6" y="378.40" font-size="11.5" fill="#222" text-anchor="end" font-weight="normal" stroke="#222" stroke-width="0.3"><tspan class="one">1</tspan>50</text>
<line x1="73.89999999999999" y1="325.10" x2="78.1" y2="325.10" stroke="#333" stroke-width="1.3"/>
<text x="72.6" y="329.10" font-size="11.5" fill="#222" text-anchor="end" font-weight="normal" stroke="#222" stroke-width="0.3">200</text>
<line x1="73.89999999999999" y1="275.80" x2="78.1" y2="275.80" stroke="#333" stroke-width="1.3"/>
<text x="72.6" y="279.80" font-size="11.5" fill="#222" text-anchor="end" font-weight="normal" stroke="#222" stroke-width="0.3">250</text>
<line x1="77.3" y1="423.7" x2="300.07" y2="423.7" stroke="#333" stroke-width="1.6"/>
<line x1="78.10" y1="423.7" x2="78.10" y2="428.09999999999997" stroke="#333" stroke-width="1.3"/>
<line x1="97.67" y1="423.7" x2="97.67" y2="426.3" stroke="#333" stroke-width="1.3"/>
<line x1="109.11" y1="423.7" x2="109.11" y2="426.3" stroke="#333" stroke-width="1.3"/>
<line x1="117.23" y1="423.7" x2="117.23" y2="426.3" stroke="#333" stroke-width="1.3"/>
<line x1="123.53" y1="423.7" x2="123.53" y2="426.3" stroke="#333" stroke-width="1.3"/>
<line x1="128.68" y1="423.7" x2="128.68" y2="426.3" stroke="#333" stroke-width="1.3"/>
<line x1="133.03" y1="423.7" x2="133.03" y2="426.3" stroke="#333" stroke-width="1.3"/>
<line x1="136.80" y1="423.7" x2="136.80" y2="426.3" stroke="#333" stroke-width="1.3"/>
<line x1="140.13" y1="423.7" x2="140.13" y2="426.3" stroke="#333" stroke-width="1.3"/>
<line x1="143.10" y1="423.7" x2="143.10" y2="428.09999999999997" stroke="#333" stroke-width="1.3"/>
<line x1="162.67" y1="423.7" x2="162.67" y2="426.3" stroke="#333" stroke-width="1.3"/>
<line x1="174.11" y1="423.7" x2="174.11" y2="426.3" stroke="#333" stroke-width="1.3"/>
<line x1="182.23" y1="423.7" x2="182.23" y2="426.3" stroke="#333" stroke-width="1.3"/>
<line x1="188.53" y1="423.7" x2="188.53" y2="426.3" stroke="#333" stroke-width="1.3"/>
<line x1="193.68" y1="423.7" x2="193.68" y2="426.3" stroke="#333" stroke-width="1.3"/>
<line x1="198.03" y1="423.7" x2="198.03" y2="426.3" stroke="#333" stroke-width="1.3"/>
<line x1="201.80" y1="423.7" x2="201.80" y2="426.3" stroke="#333" stroke-width="1.3"/>
<line x1="205.13" y1="423.7" x2="205.13" y2="426.3" stroke="#333" stroke-width="1.3"/>
<line x1="208.10" y1="423.7" x2="208.10" y2="428.09999999999997" stroke="#333" stroke-width="1.3"/>
<line x1="227.67" y1="423.7" x2="227.67" y2="426.3" stroke="#333" stroke-width="1.3"/>
<line x1="239.11" y1="423.7" x2="239.11" y2="426.3" stroke="#333" stroke-width="1.3"/>
<line x1="247.23" y1="423.7" x2="247.23" y2="426.3" stroke="#333" stroke-width="1.3"/>
<line x1="253.53" y1="423.7" x2="253.53" y2="426.3" stroke="#333" stroke-width="1.3"/>
<line x1="258.68" y1="423.7" x2="258.68" y2="426.3" stroke="#333" stroke-width="1.3"/>
<line x1="263.03" y1="423.7" x2="263.03" y2="426.3" stroke="#333" stroke-width="1.3"/>
<line x1="266.80" y1="423.7" x2="266.80" y2="426.3" stroke="#333" stroke-width="1.3"/>
<line x1="270.13" y1="423.7" x2="270.13" y2="426.3" stroke="#333" stroke-width="1.3"/>
<line x1="273.10" y1="423.7" x2="273.10" y2="428.09999999999997" stroke="#333" stroke-width="1.3"/>
<line x1="292.67" y1="423.7" x2="292.67" y2="426.3" stroke="#333" stroke-width="1.3"/>
<text x="78.10" y="440.7" font-size="11.1" fill="#222" text-anchor="middle" font-weight="normal" stroke="#222" stroke-width="0.3"><tspan class="one">1</tspan>0</text>
<text x="143.10" y="440.7" font-size="11.1" fill="#222" text-anchor="middle" font-weight="normal" stroke="#222" stroke-width="0.3"><tspan class="one">1</tspan>00</text>
<text x="208.10" y="440.7" font-size="11.1" fill="#222" text-anchor="middle" font-weight="normal" stroke="#222" stroke-width="0.3"><tspan class="one">1</tspan>000</text>
<text x="273.10" y="440.7" font-size="11.1" fill="#222" text-anchor="middle" font-weight="normal" stroke="#222" stroke-width="0.3"><tspan class="one">1</tspan>0000</text>
<text x="193" y="452" font-size="11.5" fill="#222" text-anchor="middle" font-weight="normal" stroke="#222" stroke-width="0.3">competitor (nM)</text>
<text transform="translate(44.8,348.4) rotate(-90)" font-size="11.55" fill="#222" stroke="#222" stroke-width="0.3" text-anchor="middle">fluorescence polarization (mP)</text>
<line x1="80.5" y1="413.7" x2="313" y2="413.7" stroke="#666" stroke-width="1.1" stroke-dasharray="2.0,2.6"/>
<text x="316.4" y="416.6" font-size="10" fill="#808080" text-anchor="start" font-weight="normal" stroke="#808080" stroke-width="0.3"><tspan class="one">1</tspan>00% dissociation</text>
<circle cx="97.50" cy="296.80" r="3.0" fill="#a5881a"/>
<circle cx="142.80" cy="288.60" r="3.0" fill="#a5881a"/>
<circle cx="162.30" cy="290.80" r="3.0" fill="#a5881a"/>
<circle cx="207.90" cy="297.30" r="3.0" fill="#a5881a"/>
<circle cx="227.50" cy="309.80" r="3.0" fill="#a5881a"/>
<circle cx="258.60" cy="318.80" r="3.0" fill="#a5881a"/>
<circle cx="285.80" cy="407.80" r="3.0" fill="#a5881a"/>
<circle cx="299.90" cy="407.80" r="3.0" fill="#a5881a"/>
<line x1="207.90" y1="291.60" x2="207.90" y2="302.20" stroke="#dc842a" stroke-width="1.6"/><line x1="204.70" y1="291.60" x2="211.10" y2="291.60" stroke="#dc842a" stroke-width="1.6"/><line x1="204.70" y1="302.20" x2="211.10" y2="302.20" stroke="#dc842a" stroke-width="1.6"/>
<line x1="227.50" y1="304.80" x2="227.50" y2="315.20" stroke="#dc842a" stroke-width="1.6"/><line x1="224.30" y1="304.80" x2="230.70" y2="304.80" stroke="#dc842a" stroke-width="1.6"/><line x1="224.30" y1="315.20" x2="230.70" y2="315.20" stroke="#dc842a" stroke-width="1.6"/>
<line x1="258.60" y1="309.90" x2="258.60" y2="328.20" stroke="#dc842a" stroke-width="1.6"/><line x1="255.40" y1="309.90" x2="261.80" y2="309.90" stroke="#dc842a" stroke-width="1.6"/><line x1="255.40" y1="328.20" x2="261.80" y2="328.20" stroke="#dc842a" stroke-width="1.6"/>
<polygon points="97.50,303.10 100.70,308.70 94.30,308.70" fill="#000"/>
<polygon points="142.80,284.30 146.00,289.90 139.60,289.90" fill="#000"/>
<polygon points="162.30,286.80 165.50,292.40 159.10,292.40" fill="#000"/>
<polygon points="207.90,290.60 211.10,296.20 204.70,296.20" fill="#000"/>
<polygon points="227.50,294.10 230.70,299.70 224.30,299.70" fill="#000"/>
<polygon points="258.70,283.80 261.90,289.40 255.50,289.40" fill="#000"/>
<polygon points="299.80,301.30 303.00,306.90 296.60,306.90" fill="#000"/>
<circle cx="92.40" cy="377.50" r="2.8" fill="#a87c1c"/>
<text x="100.5" y="381" font-size="11" fill="#b08a56" text-anchor="start" font-weight="normal" stroke="#b08a56" stroke-width="0.3">biotin</text>
<polygon points="93.00,389.40 96.00,394.65 90.00,394.65" fill="#000"/>
<text x="100.5" y="395.8" font-size="11" fill="#111" text-anchor="start" font-weight="normal" stroke="#111" stroke-width="0.3">buffer only</text>
<path d="M763,0 L583,0 L583,1100 Q518,1040 412,980 Q306,920 222,890 L222,1057 Q373,1125 486,1222 Q599,1318 646,1409 L763,1409 Z" transform="translate(54.297,185.900) scale(0.005615,-0.005615)" fill="#222" stroke="#222" stroke-width="53.43"/>
<path d="M763,0 L583,0 L583,1100 Q518,1040 412,980 Q306,920 222,890 L222,1057 Q373,1125 486,1222 Q599,1318 646,1409 L763,1409 Z" transform="translate(54.297,149.100) scale(0.005615,-0.005615)" fill="#222" stroke="#222" stroke-width="53.43"/>
<path d="M763,0 L583,0 L583,1100 Q518,1040 412,980 Q306,920 222,890 L222,1057 Q373,1125 486,1222 Q599,1318 646,1409 L763,1409 Z" transform="translate(72.828,235.700) scale(0.005420,-0.005420)" fill="#222" stroke="#222" stroke-width="55.35"/>
<path d="M763,0 L583,0 L583,1100 Q518,1040 412,980 Q306,920 222,890 L222,1057 Q373,1125 486,1222 Q599,1318 646,1409 L763,1409 Z" transform="translate(159.342,235.700) scale(0.005420,-0.005420)" fill="#222" stroke="#222" stroke-width="55.35"/>
<path d="M763,0 L583,0 L583,1100 Q518,1040 412,980 Q306,920 222,890 L222,1057 Q373,1125 486,1222 Q599,1318 646,1409 L763,1409 Z" transform="translate(245.856,235.700) scale(0.005420,-0.005420)" fill="#222" stroke="#222" stroke-width="55.35"/>
<path d="M763,0 L583,0 L583,1100 Q518,1040 412,980 Q306,920 222,890 L222,1057 Q373,1125 486,1222 Q599,1318 646,1409 L763,1409 Z" transform="translate(228.631,102.900) scale(0.006055,-0.006055)" fill="#a8388c" stroke="#a8388c" stroke-width="19.82"/>
<path d="M763,0 L583,0 L583,1100 Q518,1040 412,980 Q306,920 222,890 L222,1057 Q373,1125 486,1222 Q599,1318 646,1409 L763,1409 Z" transform="translate(315.828,235.700) scale(0.005420,-0.005420)" fill="#222" stroke="#222" stroke-width="55.35"/>
<path d="M763,0 L583,0 L583,1100 Q518,1040 412,980 Q306,920 222,890 L222,1057 Q373,1125 486,1222 Q599,1318 646,1409 L763,1409 Z" transform="translate(401.742,235.700) scale(0.005420,-0.005420)" fill="#222" stroke="#222" stroke-width="55.35"/>
<path d="M763,0 L583,0 L583,1100 Q518,1040 412,980 Q306,920 222,890 L222,1057 Q373,1125 486,1222 Q599,1318 646,1409 L763,1409 Z" transform="translate(487.656,235.700) scale(0.005420,-0.005420)" fill="#222" stroke="#222" stroke-width="55.35"/>
<path d="M763,0 L583,0 L583,1100 Q518,1040 412,980 Q306,920 222,890 L222,1057 Q373,1125 486,1222 Q599,1318 646,1409 L763,1409 Z" transform="translate(53.397,427.700) scale(0.005615,-0.005615)" fill="#222" stroke="#222" stroke-width="53.43"/>
<path d="M763,0 L583,0 L583,1100 Q518,1040 412,980 Q306,920 222,890 L222,1057 Q373,1125 486,1222 Q599,1318 646,1409 L763,1409 Z" transform="translate(53.397,378.400) scale(0.005615,-0.005615)" fill="#222" stroke="#222" stroke-width="53.43"/>
<path d="M763,0 L583,0 L583,1100 Q518,1040 412,980 Q306,920 222,890 L222,1057 Q373,1125 486,1222 Q599,1318 646,1409 L763,1409 Z" transform="translate(71.928,440.700) scale(0.005420,-0.005420)" fill="#222" stroke="#222" stroke-width="55.35"/>
<path d="M763,0 L583,0 L583,1100 Q518,1040 412,980 Q306,920 222,890 L222,1057 Q373,1125 486,1222 Q599,1318 646,1409 L763,1409 Z" transform="translate(133.842,440.700) scale(0.005420,-0.005420)" fill="#222" stroke="#222" stroke-width="55.35"/>
<path d="M763,0 L583,0 L583,1100 Q518,1040 412,980 Q306,920 222,890 L222,1057 Q373,1125 486,1222 Q599,1318 646,1409 L763,1409 Z" transform="translate(195.756,440.700) scale(0.005420,-0.005420)" fill="#222" stroke="#222" stroke-width="55.35"/>
<path d="M763,0 L583,0 L583,1100 Q518,1040 412,980 Q306,920 222,890 L222,1057 Q373,1125 486,1222 Q599,1318 646,1409 L763,1409 Z" transform="translate(257.670,440.700) scale(0.005420,-0.005420)" fill="#222" stroke="#222" stroke-width="55.35"/>
<path d="M763,0 L583,0 L583,1100 Q518,1040 412,980 Q306,920 222,890 L222,1057 Q373,1125 486,1222 Q599,1318 646,1409 L763,1409 Z" transform="translate(316.400,416.600) scale(0.004883,-0.004883)" fill="#808080" stroke="#808080" stroke-width="61.44"/>
</svg>
</body></html>
